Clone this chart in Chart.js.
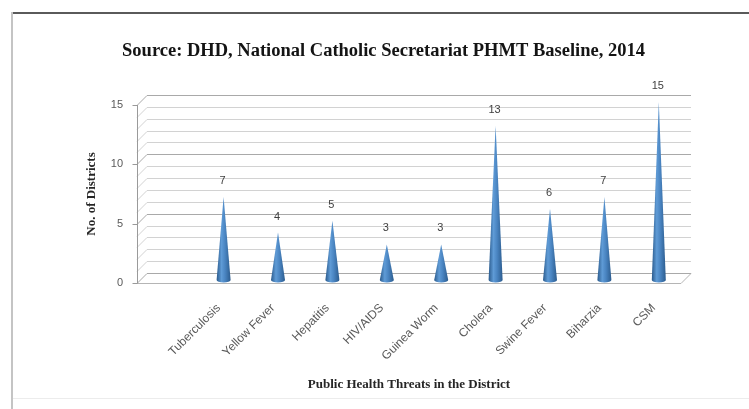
<!DOCTYPE html>
<html>
<head>
<meta charset="utf-8">
<script src="https://cdn.jsdelivr.net/npm/chart.js@4/dist/chart.umd.min.js"></script>
<style>
  html, body { margin: 0; padding: 0; background: #ffffff; }
  #frame { position: relative; width: 749px; height: 409px; overflow: hidden; }
  #frame::before { content: ""; position: absolute; left: 11px; top: 12px; right: 0; height: 2px; background: #5a5a5a; }
  #frame::after { content: ""; position: absolute; left: 11px; top: 12px; width: 2px; bottom: 0; background: #c4c4c4; }
  #bottomEdge { position: absolute; left: 13px; right: 0; top: 398px; height: 1px; background: #ececec; }
  canvas { display: block; position: relative; z-index: 1; }
</style>
</head>
<body>
<div id="frame">
  <div id="bottomEdge"></div>
  <canvas id="chart" width="749" height="409"></canvas>
</div>
<script>
// Public health threats: number of districts reporting each one.
// The leading blank slot is the empty first row of the category axis.
const categories = ['', 'Tuberculosis', 'Yellow Fever', 'Hepatitis', 'HIV/AIDS', 'Guinea Worm',
                    'Cholera', 'Swine Fever', 'Biharzia', 'CSM'];
const districtCounts = [null, 7, 4, 5, 3, 3, 13, 6, 7, 15];
const yTickValues = [0, 5, 10, 15];
const wallLineValues = [0, 1, 2, 3, 4, 5, 6, 7, 8, 9, 10, 11, 12, 13, 14, 15];

const chartTitle = 'Source: DHD, National Catholic Secretariat PHMT Baseline, 2014';
const xAxisTitle = 'Public Health Threats in the District';
const yAxisTitle = 'No. of Districts';

// depth of the 3-D back wall
const DEPTH_X = 10;
const DEPTH_Y = -10;

const wallPlugin = {
  id: 'wall3d',
  afterLayout(chart) {
    // centre the title over the framed area
    const tb = chart.titleBlock;
    if (tb) {
      const shift = 383.5 - (tb.left + tb.right) / 2;
      tb.left += shift;
      tb.right += shift;
    }
  },
  beforeDatasetsDraw(chart) {
    const { ctx, chartArea: a } = chart;
    const y = chart.scales.y;
    ctx.save();
    ctx.lineWidth = 1;
    // back wall grid and left side wall
    wallLineValues.forEach(v => {
      const py = Math.round(y.getPixelForValue(v)) + 0.5;
      const major = v % 5 === 0;
      ctx.strokeStyle = major ? '#a9a9a9' : '#d2d2d2';
      ctx.beginPath();
      ctx.moveTo(a.left, py);
      ctx.lineTo(a.left + DEPTH_X, py + DEPTH_Y);
      ctx.lineTo(a.right + DEPTH_X, py + DEPTH_Y);
      ctx.stroke();
    });
    // floor front edge and right edge
    const p0 = Math.round(y.getPixelForValue(0)) + 0.5;
    ctx.strokeStyle = '#b5b5b5';
    ctx.beginPath();
    ctx.moveTo(a.left, p0);
    ctx.lineTo(a.right, p0);
    ctx.lineTo(a.right + DEPTH_X, p0 + DEPTH_Y);
    ctx.stroke();
    // value axis line and its tick marks
    ctx.strokeStyle = '#9a9a9a';
    ctx.beginPath();
    const ax = Math.round(a.left) + 0.5;
    ctx.moveTo(ax, Math.round(y.getPixelForValue(15)));
    ctx.lineTo(ax, p0);
    yTickValues.forEach(v => {
      const py = Math.round(y.getPixelForValue(v)) + 0.5;
      ctx.moveTo(ax - 5, py);
      ctx.lineTo(ax, py);
    });
    ctx.stroke();
    ctx.restore();
  },
  afterDatasetsDraw(chart) {
    const { ctx } = chart;
    const meta = chart.getDatasetMeta(0);
    ctx.save();
    meta.data.forEach((el, i) => {
      const v = districtCounts[i];
      if (v === null || v === undefined) return;
      const cx = el.x + DEPTH_X / 2;
      const baseY = el.base + DEPTH_Y / 2 + 2;
      const tipY = el.y - 3;
      const hw = 7;
      const g = ctx.createLinearGradient(cx - hw, 0, cx + hw, 0);
      g.addColorStop(0, '#2a5a8c');
      g.addColorStop(0.35, '#5f9bd6');
      g.addColorStop(0.6, '#4a85c2');
      g.addColorStop(1, '#2c5c8e');
      ctx.fillStyle = g;
      ctx.beginPath();
      ctx.moveTo(cx, tipY);
      ctx.lineTo(cx + hw, baseY);
      ctx.ellipse(cx, baseY, hw, 2.5, 0, 0, Math.PI, false);
      ctx.closePath();
      ctx.fill();
      // value label above the tip
      ctx.fillStyle = '#404040';
      ctx.font = '11px "Liberation Sans", Arial, sans-serif';
      ctx.textAlign = 'center';
      ctx.textBaseline = 'middle';
      ctx.fillText(String(v), cx - 1, tipY - 16);
    });
    ctx.restore();
  }
};

new Chart(document.getElementById('chart'), {
  type: 'bar',
  data: {
    labels: categories,
    datasets: [{
      data: districtCounts,
      backgroundColor: 'rgba(0,0,0,0)',
      borderWidth: 0
    }]
  },
  options: {
    responsive: false,
    animation: false,
    devicePixelRatio: 1,
    layout: { padding: { left: 20, right: 68, top: 0, bottom: 0 } },
    plugins: {
      legend: { display: false },
      tooltip: { enabled: false },
      title: {
        display: true,
        text: chartTitle,
        color: '#141414',
        font: { family: '"Liberation Serif", "Times New Roman", serif', size: 18.5, weight: 'bold', lineHeight: 1.2 },
        padding: { top: 40.5, bottom: 42.3 }
      }
    },
    scales: {
      x: {
        grid: { display: false },
        border: { display: false },
        ticks: {
          autoSkip: false,
          minRotation: 45,
          maxRotation: 45,
          color: '#595959',
          padding: 10,
          font: { family: '"Liberation Sans", Arial, sans-serif', size: 12 }
        },
        title: {
          display: true,
          text: xAxisTitle,
          color: '#262626',
          font: { family: '"Liberation Serif", "Times New Roman", serif', size: 13, weight: 'bold', lineHeight: 1.2 },
          padding: { top: 0, bottom: 16.2 }
        },
        afterFit(scale) { scale.height = 126; }
      },
      y: {
        min: 0,
        max: 15,
        grid: { display: false, drawTicks: false },
        border: { display: false },
        ticks: {
          stepSize: 5,
          color: '#595959',
          padding: 14,
          font: { family: '"Liberation Sans", Arial, sans-serif', size: 11 }
        },
        title: {
          display: true,
          text: yAxisTitle,
          color: '#262626',
          font: { family: '"Liberation Serif", "Times New Roman", serif', size: 13, weight: 'bold', lineHeight: 1.2 },
          padding: { top: 64, bottom: 0 }
        },
        afterFit(scale) { scale.width = 117; }
      }
    }
  },
  plugins: [wallPlugin]
});
</script>
</body>
</html>
